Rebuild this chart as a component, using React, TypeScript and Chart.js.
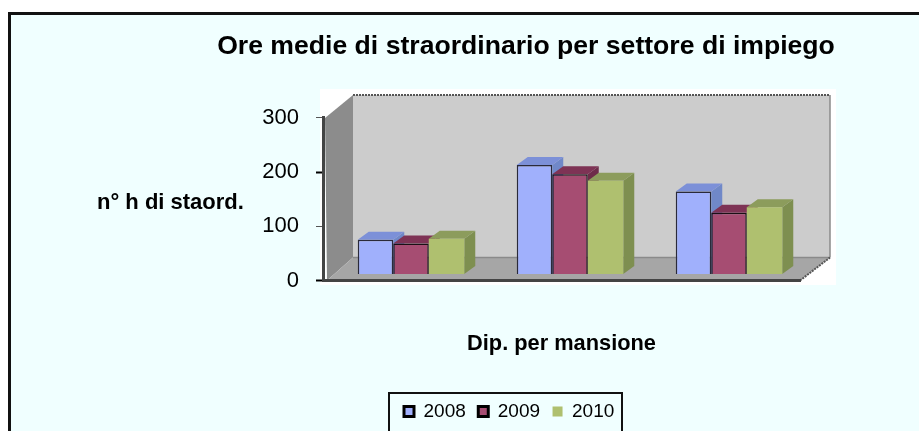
import React, { useEffect, useRef } from "react";
import { Chart, registerables } from "chart.js";

Chart.register(...registerables);

const categories = ["Settore A", "Settore B", "Settore C"];
const seriesNames = ["2008", "2009", "2010"];
const values2008 = [64, 202, 153];
const values2009 = [57, 185, 114];
const values2010 = [66, 173, 124];
const yTicks = [0, 100, 200, 300];

const chartTitle = "Ore medie di straordinario per settore di impiego";
const yTitle = "n° h di staord.";
const xTitle = "Dip. per mansione";

const FONT = "'Liberation Sans', Arial, sans-serif";
const front = ["#A0B0FC", "#A64D72", "#AFC06F"];
const topFace = ["#7C90D8", "#7E3355", "#8C9C5C"];
const sideFace = ["#7088C8", "#6E2C4A", "#7E8F50"];
const border = ["#2A2A3A", "#1A1015", "rgba(0,0,0,0)"];

const BAR_SHIFT_X = 8.5;
const BAR_SHIFT_Y = -6;
const DEPTH_X = 11;
const DEPTH_Y = -8;

function poly(ctx: CanvasRenderingContext2D, pts: number[][], fill: string) {
  ctx.beginPath();
  pts.forEach((p, i) => (i ? ctx.lineTo(p[0], p[1]) : ctx.moveTo(p[0], p[1])));
  ctx.closePath();
  ctx.fillStyle = fill;
  ctx.fill();
}

const scenePlugin = {
  id: "scene",
  beforeDraw(chart: any) {
    const { ctx, width, height, chartArea: a } = chart;
    ctx.save();
    ctx.fillStyle = "#F0FFFF";
    ctx.fillRect(0, 0, width, height);
    ctx.fillStyle = "#FFFFFF";
    ctx.fillRect(0, 0, width, 12);
    ctx.fillRect(0, 0, 8, height);
    ctx.fillStyle = "#111111";
    ctx.fillRect(8, 12, 3, height - 12);
    ctx.fillRect(8, 12, width - 8, 3);

    // white plot ground
    const bottom = a.bottom;
    const wallTop = 95;
    const wallBottom = bottom - 23;
    const wallLeft = a.left + 30;
    const wallRight = a.right + 30;
    ctx.fillStyle = "#FFFFFF";
    ctx.fillRect(a.left - 3, 89, a.right - a.left + 39, 196);
    // back wall
    poly(ctx, [[wallLeft, wallTop], [wallRight, wallTop], [wallRight, wallBottom], [wallLeft, wallBottom]], "#CCCCCC");
    // left wall
    poly(ctx, [[a.left + 2, a.top], [wallLeft, wallTop], [wallLeft, wallBottom], [a.left + 4, bottom]], "#8C8C8C");
    // floor
    poly(ctx, [[a.left + 4, bottom], [a.right, bottom], [wallRight, wallBottom], [wallLeft, wallBottom]], "#A6A6A6");
    ctx.strokeStyle = "#8A8A8A";
    ctx.lineWidth = 1.5;
    ctx.beginPath();
    ctx.moveTo(wallLeft, wallBottom);
    ctx.lineTo(wallRight, wallBottom);
    ctx.moveTo(wallRight, wallTop);
    ctx.lineTo(wallRight, wallBottom);
    ctx.stroke();
    ctx.strokeStyle = "#555555";
    ctx.lineWidth = 2;
    ctx.setLineDash([2, 1]);
    ctx.beginPath();
    ctx.moveTo(wallLeft, wallTop);
    ctx.lineTo(wallRight, wallTop);
    ctx.moveTo(a.right, bottom);
    ctx.lineTo(wallRight, wallBottom);
    ctx.stroke();
    ctx.restore();
  },
  beforeDatasetsDraw(chart: any) {
    const { ctx } = chart;
    ctx.save();
    ctx.translate(BAR_SHIFT_X, BAR_SHIFT_Y);
    chart.data.datasets.forEach((_: any, d: number) => {
      chart.getDatasetMeta(d).data.forEach((bar: any) => {
        const l = bar.x - bar.width / 2;
        const r = bar.x + bar.width / 2;
        poly(ctx, [[r, bar.y], [r + DEPTH_X, bar.y + DEPTH_Y], [r + DEPTH_X, bar.base + DEPTH_Y], [r, bar.base]], sideFace[d]);
        poly(ctx, [[l, bar.y], [r, bar.y], [r + DEPTH_X, bar.y + DEPTH_Y], [l + DEPTH_X, bar.y + DEPTH_Y]], topFace[d]);
      });
    });
  },
  afterDatasetsDraw(chart: any) {
    chart.ctx.restore();
  },
  afterLayout(chart: any) {
    const t = chart.titleBlock;
    t.left = 217;
    t.right = 835;
    const l = chart.legend;
    l.left = 391.5;
    l.right = 700;
    l.top = 389.4;
    l.bottom = 431;
  },
  afterDraw(chart: any) {
    const { ctx } = chart;
    ctx.save();
    ctx.font = `bold 22px ${FONT}`;
    ctx.fillStyle = "#000000";
    ctx.textAlign = "left";
    ctx.textBaseline = "middle";
    ctx.fillText(yTitle, 97, 203);
    ctx.strokeStyle = "#111111";
    ctx.lineWidth = 2;
    ctx.beginPath();
    ctx.moveTo(389, 431);
    ctx.lineTo(389, 393);
    ctx.lineTo(622, 393);
    ctx.lineTo(622, 431);
    ctx.stroke();
    ctx.restore();
  },
};

export default function App() {
  const ref = useRef<HTMLCanvasElement | null>(null);
  useEffect(() => {
    document.body.style.margin = "0";
    const chart = new Chart(ref.current as HTMLCanvasElement, {
      type: "bar",
      data: {
        labels: categories,
        datasets: [values2008, values2009, values2010].map((v, i) => ({
          label: seriesNames[i],
          data: v,
          backgroundColor: front[i],
          borderColor: border[i],
          borderWidth: i === 2 ? 0 : 1.5,
          barPercentage: 1,
          categoryPercentage: 0.67,
        })),
      },
      options: {
        animation: false,
        responsive: false,
        layout: { padding: { left: 0, right: 119, top: 0, bottom: 0 } },
        plugins: {
          tooltip: { enabled: false },
          title: {
            display: true,
            text: chartTitle,
            color: "#000000",
            font: { family: FONT, size: 26.6, weight: "bold", lineHeight: 1.2 },
            padding: { top: 31, bottom: 55 },
          },
          legend: {
            position: "bottom",
            align: "start",
            labels: {
              color: "#000000",
              font: { family: FONT, size: 19 },
              boxWidth: 10,
              boxHeight: 10,
              padding: 12.5,
              generateLabels(c: any) {
                return c.data.datasets.map((ds: any, i: number) => ({
                  text: ds.label,
                  fillStyle: front[i],
                  strokeStyle: i === 2 ? front[i] : "#000000",
                  lineWidth: i === 2 ? 0 : 3,
                  datasetIndex: i,
                  fontColor: "#000000",
                }));
              },
            },
          },
        },
        scales: {
          x: {
            offset: true,
            afterFit(s: any) {
              s.height = 109;
            },
            grid: { display: false },
            border: { display: true, color: "#444444", width: 3, dash: [2, 2] },
            ticks: { display: false },
            title: {
              display: true,
              text: xTitle,
              color: "#000000",
              font: { family: FONT, size: 21.8, weight: "bold", lineHeight: 1.2 },
              padding: { top: 0, bottom: 32 },
            },
          },
          y: {
            min: yTicks[0],
            max: yTicks[yTicks.length - 1],
            afterFit(s: any) {
              s.width = 323;
            },
            afterBuildTicks(s: any) {
              s.ticks = yTicks.map((v) => ({ value: v }));
            },
            grid: {
              drawOnChartArea: false,
              drawTicks: true,
              tickLength: 7,
              tickColor: (c: any) => (c.index % 2 === 0 ? "#000000" : "#555555"),
              tickWidth: (c: any) => (c.index % 2 === 0 ? 2 : 1),
            },
            border: { display: true, color: "#444444", width: 3, dash: [2, 2] },
            ticks: {
              color: "#000000",
              padding: 17,
              font: { family: FONT, size: 22 },
            },
          },
        },
      } as any,
      plugins: [scenePlugin],
    });
    return () => chart.destroy();
  }, []);
  return (
    <canvas
      ref={ref}
      width={919}
      height={431}
      style={{ display: "block", width: 919, height: 431, filter: "blur(0.4px)" }}
    />
  );
}
